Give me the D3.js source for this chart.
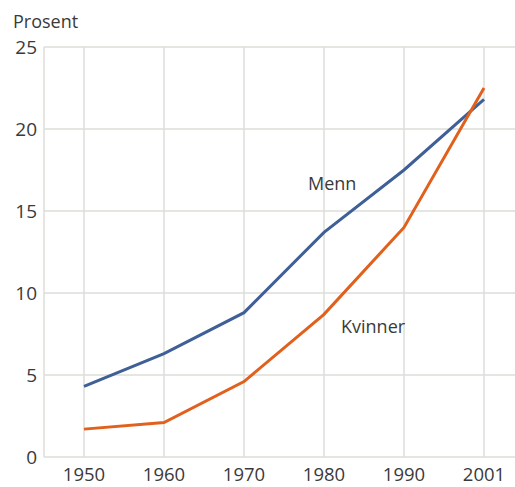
<!DOCTYPE html>
<html>
<head>
<meta charset="utf-8">
<script src="https://cdn.jsdelivr.net/npm/d3@7"></script>
<style>
  body { margin: 0; background: #fff; }
  svg text { font-family: "Open Sans", sans-serif; fill: #3a3a3a; }
</style>
</head>
<body>
<svg id="chart" width="515" height="487"></svg>
<script>
var years = ["1950", "1960", "1970", "1980", "1990", "2001"];
var menn = [4.3, 6.3, 8.8, 13.7, 17.5, 21.8];
var kvinner = [1.7, 2.1, 4.6, 8.7, 14.0, 22.5];
var yTicks = [0, 5, 10, 15, 20, 25];

var svg = d3.select("#chart");
var plot = { left: 44, right: 515, top: 47, bottom: 457 };

var x = d3.scalePoint().domain(years).range([84, 484]);
var y = d3.scaleLinear().domain([0, 25]).range([plot.bottom, plot.top]);

var grid = svg.append("g").attr("stroke", "#dcdcd8").attr("stroke-width", 1.5);

grid.selectAll("line.h")
    .data(yTicks)
  .enter().append("line")
    .attr("class", "h")
    .attr("x1", plot.left).attr("x2", plot.right)
    .attr("y1", function (d) { return y(d); })
    .attr("y2", function (d) { return y(d); });

grid.selectAll("line.v")
    .data(years)
  .enter().append("line")
    .attr("class", "v")
    .attr("x1", function (d) { return x(d); })
    .attr("x2", function (d) { return x(d); })
    .attr("y1", plot.top).attr("y2", plot.bottom);

grid.append("line")
    .attr("x1", plot.left).attr("x2", plot.left)
    .attr("y1", plot.top).attr("y2", plot.bottom);

// y axis labels
svg.append("g").selectAll("text")
    .data(yTicks)
  .enter().append("text")
    .attr("x", 37)
    .attr("y", function (d) { return y(d) + 7; })
    .attr("text-anchor", "end")
    .style("font-size", "19px")
    .text(function (d) { return d; });

// x axis labels
svg.append("g").selectAll("text")
    .data(years)
  .enter().append("text")
    .attr("x", function (d) { return x(d); })
    .attr("y", 481)
    .attr("text-anchor", "middle")
    .style("font-size", "18.5px")
    .text(function (d) { return d; });

svg.append("text")
    .attr("x", 13).attr("y", 28)
    .style("font-size", "18px")
    .text("Prosent");

var line = d3.line()
    .x(function (d, i) { return x(years[i]); })
    .y(function (d) { return y(d); });

svg.append("path")
    .datum(menn)
    .attr("fill", "none")
    .attr("stroke", "#3f5f97")
    .attr("stroke-width", 3)
    .attr("d", line);

svg.append("path")
    .datum(kvinner)
    .attr("fill", "none")
    .attr("stroke", "#e0601c")
    .attr("stroke-width", 3)
    .attr("d", line);

svg.append("text")
    .attr("x", 308).attr("y", 190)
    .style("font-size", "18px")
    .text("Menn");

svg.append("text")
    .attr("x", 341).attr("y", 333)
    .style("font-size", "18px")
    .text("Kvinner");
</script>
</body>
</html>
